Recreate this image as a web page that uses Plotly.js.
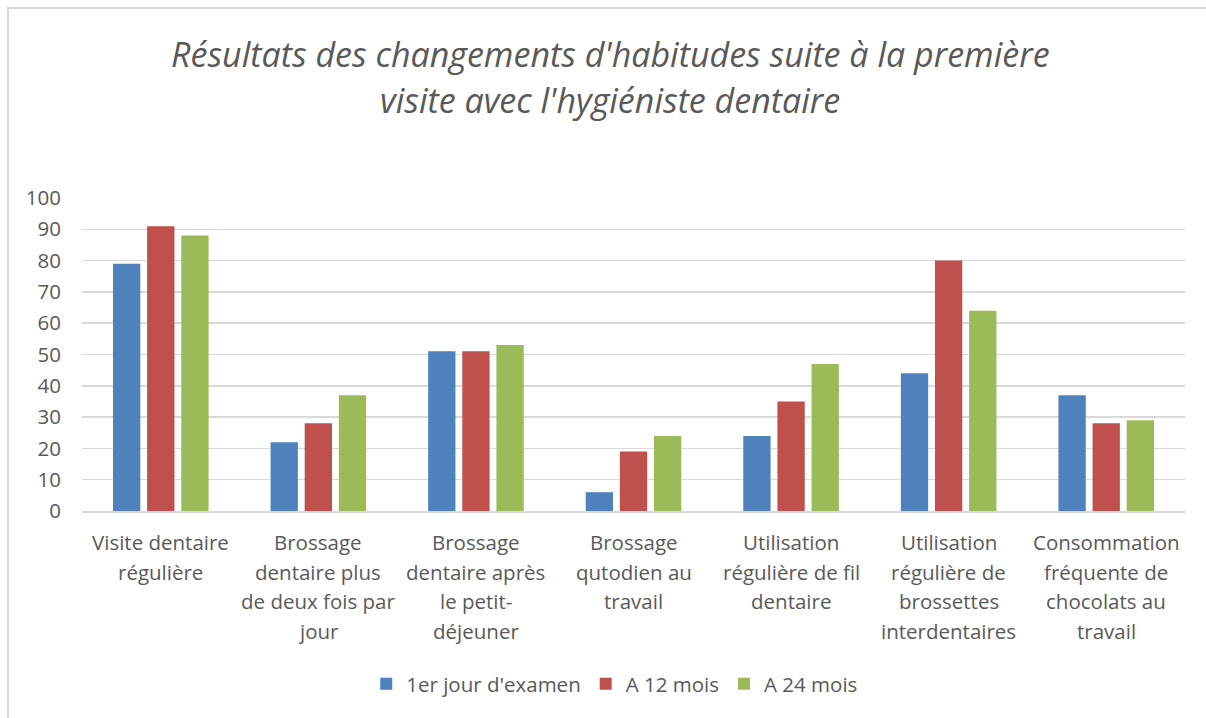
<!DOCTYPE html>
<html>
<head>
<meta charset="utf-8">
<script src="https://cdn.plot.ly/plotly-3.0.1.min.js"></script>
<style>
html,body{margin:0;padding:0;background:#fff;overflow:hidden;}
#frame{position:absolute;left:7px;top:7px;width:1300px;height:800px;border-left:2px solid #d9d9d9;border-top:2px solid #d9d9d9;}
#chart{position:absolute;left:0;top:0;width:1206px;height:718px;}
</style>
</head>
<body>
<div id="frame"></div>
<div id="chart"></div>
<script>
const categories = [
  "Visite dentaire<br>régulière",
  "Brossage<br>dentaire plus<br>de deux fois par<br>jour",
  "Brossage<br>dentaire après<br>le petit-<br>déjeuner",
  "Brossage<br>qutodien au<br>travail",
  "Utilisation<br>régulière de fil<br>dentaire",
  "Utilisation<br>régulière de<br>brossettes<br>interdentaires",
  "Consommation<br>fréquente de<br>chocolats au<br>travail"
];
const seriesNames = ["1er jour d'examen", "A 12 mois", "A 24 mois"];
const jour1 = [79, 22, 51, 6, 24, 44, 37];
const mois12 = [91, 28, 51, 19, 35, 80, 28];
const mois24 = [88, 37, 53, 24, 47, 64, 29];
const yTicks = [0,10,20,30,40,50,60,70,80,90,100];
const titleLines = ["Résultats des changements d'habitudes suite à la première", "visite avec l'hygiéniste dentaire"];

const colors = ["#4F81BD", "#C0504D", "#9BBB59"];
const values = [jour1, mois12, mois24];
const font = "'Open Sans', sans-serif";
const grey = "#595959";
const txt = 20.5;
const ttl = 34;
const titleX = 0.479;

const traces = values.map((v, i) => ({
  type: "bar",
  name: seriesNames[i],
  x: categories,
  y: v,
  marker: {color: colors[i]},
  hoverinfo: "y+name"
}));

// category labels drawn line by line for Excel-like line spacing
const annotations = [];
categories.forEach(cat => {
  cat.split("<br>").forEach((line, j) => {
    annotations.push({
      x: cat, y: 0, xref: "x", yref: "y",
      text: line, showarrow: false,
      xanchor: "center", yanchor: "middle",
      yshift: -(31 + j * 29.5),
      font: {family: font, size: txt, color: grey}
    });
  });
});
// second title line
annotations.push({
  x: titleX, y: (511 - 100) / 313, xref: "paper", yref: "paper",
  text: titleLines[1], showarrow: false,
  xanchor: "center", yanchor: "middle",
  font: {family: font, size: ttl, color: grey, style: "italic"}
});

const layout = {
  width: 1206, height: 718,
  paper_bgcolor: "rgba(0,0,0,0)",
  plot_bgcolor: "rgba(0,0,0,0)",
  margin: {l: 82, r: 21, t: 198, b: 207},
  font: {family: font, color: grey, size: txt},
  title: {
    text: titleLines[0],
    font: {family: font, size: ttl, color: grey, style: "italic"},
    x: titleX, xanchor: "center", xref: "paper",
    y: 1 - 55 / 718, yanchor: "middle", yref: "container"
  },
  annotations: annotations,
  barmode: "group",
  bargap: 0.35,
  bargroupgap: 0.2,
  xaxis: {
    showticklabels: false,
    showline: true, linecolor: "#d9d9d9", linewidth: 1.5,
    ticks: "", fixedrange: true
  },
  yaxis: {
    range: [0, 100],
    tickvals: yTicks,
    ticktext: yTicks.map(String),
    tickfont: {family: font, size: txt, color: grey},
    gridcolor: "#d9d9d9", gridwidth: 1.5,
    zeroline: false, showline: false, ticks: "",
    ticklabelstandoff: 20, fixedrange: true
  },
  legend: {
    orientation: "h", x: 0.483, xanchor: "center",
    y: -(684 - 511) / 313, yanchor: "middle",
    font: {family: font, size: txt, color: grey},
    itemwidth: 30, traceorder: "normal"
  },
  showlegend: true
};

Plotly.newPlot("chart", traces, layout, {displayModeBar: false, staticPlot: true});
</script>
</body>
</html>
